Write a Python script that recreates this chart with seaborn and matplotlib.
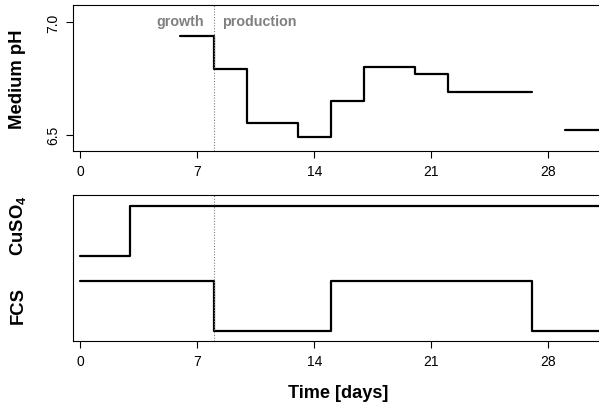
import numpy as np
import pandas as pd
import matplotlib
matplotlib.use("Agg")
import matplotlib.pyplot as plt
import seaborn as sns

# Medium pH readings (step values, two separate measurement runs)
ph_day = [6, 8, 10, 13, 15, 17, 20, 22, 27, 29, 33]
ph_value = [6.94, 6.79, 6.55, 6.49, 6.65, 6.80, 6.77, 6.69, 6.69, 6.52, 6.52]
ph_run = [1, 1, 1, 1, 1, 1, 1, 1, 1, 2, 2]

# Supplement schedules (0 = off, 1 = on)
cuso4_day = [0, 3, 33]
cuso4_state = [0, 1, 1]
fcs_day = [0, 8, 15, 27, 33]
fcs_state = [1, 0, 1, 0, 0]

day_ticks = [0, 7, 14, 21, 28]
ph_ticks = [6.5, 7.0]
phase_switch = 8

sns.set_theme(style="ticks")
plt.rcParams["font.family"] = ["Liberation Sans", "DejaVu Sans"]
plt.rcParams["text.color"] = "black"
plt.rcParams["axes.labelcolor"] = "black"
plt.rcParams["axes.edgecolor"] = "black"
plt.rcParams["axes.linewidth"] = 0.8
plt.rcParams["xtick.major.width"] = 0.8
plt.rcParams["ytick.major.width"] = 0.8
plt.rcParams["xtick.color"] = "black"
plt.rcParams["ytick.color"] = "black"

W, H = 599, 406
fig = plt.figure(figsize=(W / 100, H / 100), dpi=100)

def px_axes(left, top, right, bottom):
    return fig.add_axes([left / W, 1 - bottom / H, (right - left) / W, (bottom - top) / H])

ax1 = px_axes(72.5, 6, 607, 152.3)
ax2 = px_axes(72.5, 196, 607, 342.3)

xlim = (-0.45, 31.5)
grey = "#808080"

# --- pH panel
ph_df = pd.DataFrame({"day": ph_day, "pH": ph_value, "run": ph_run})
sns.lineplot(data=ph_df, x="day", y="pH", units="run", estimator=None,
             drawstyle="steps-post", color="black", lw=1.6, ax=ax1, legend=False)
ax1.set_xlim(*xlim)
ax1.set_ylim(6.426, 7.077)
ax1.set_yticks(ph_ticks)
ax1.set_yticklabels([f"{v:.1f}" for v in ph_ticks], rotation=90, va="center")
ax1.set_xticks(day_ticks)
ax1.set_xlabel("")
ax1.set_ylabel("")
ax1.axvline(phase_switch, color=grey, ls=(0, (1, 1.5)), lw=0.8)
ax1.annotate("growth", xy=(phase_switch, 0.86), xycoords=ax1.get_xaxis_transform(),
             xytext=(-7, 0), textcoords="offset points", ha="right", va="baseline",
             color=grey, fontsize=10.3, fontweight="bold")
ax1.annotate("production", xy=(phase_switch, 0.86), xycoords=ax1.get_xaxis_transform(),
             xytext=(6, 0), textcoords="offset points", ha="left", va="baseline",
             color=grey, fontsize=10.3, fontweight="bold")

# --- supplement panel: CuSO4 lane sits above the FCS lane
sup_df = pd.concat([
    pd.DataFrame({"day": cuso4_day, "level": np.array(cuso4_state) + 1.5, "agent": "CuSO4"}),
    pd.DataFrame({"day": fcs_day, "level": np.array(fcs_state, dtype=float), "agent": "FCS"}),
])
sns.lineplot(data=sup_df, x="day", y="level", units="agent", estimator=None,
             drawstyle="steps-post", color="black", lw=1.6, ax=ax2, legend=False)
ax2.set_xlim(*xlim)
ax2.set_ylim(-0.212, 2.714)
ax2.set_yticks([])
ax2.set_xticks(day_ticks)
ax2.set_xlabel("")
ax2.set_ylabel("")
ax2.axvline(phase_switch, color=grey, ls=(0, (1, 1.5)), lw=0.8)

for ax in (ax1, ax2):
    for s in ax.spines.values():
        s.set_visible(True)
        s.set_color("black")
    ax.tick_params(axis="both", length=5, color="black", labelsize=10, pad=4,
                   labelcolor="black")

fig.text(18 / W, 1 - 79 / H, "Medium pH", rotation=90, ha="center", va="center",
         fontsize=13.3, fontweight="bold")
fig.text(18 / W, 1 - 226 / H, r"CuSO$_{\mathregular{4}}$", rotation=90, ha="center",
         va="center", fontsize=13.3, fontweight="bold")
fig.text(18 / W, 1 - 306 / H, "FCS", rotation=90, ha="center", va="center",
         fontsize=13.3, fontweight="bold")
fig.text(338 / W, 1 - 394 / H, "Time [days]", ha="center", va="center",
         fontsize=13.1, fontweight="bold")

fig.savefig("out.png", dpi=100)
